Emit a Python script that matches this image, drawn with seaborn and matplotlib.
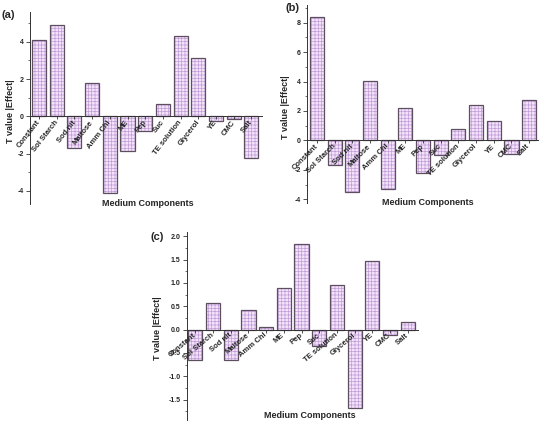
import matplotlib
matplotlib.use('Agg')
import matplotlib.pyplot as plt
from matplotlib.ticker import MultipleLocator, FixedLocator
import seaborn as sns
import pandas as pd

categories = ["Constant", "Sol Starch", "Sod nit", "Maltose", "Amm Chl", "ME", "Pep",
              "Suc", "TE solution", "Glycerol", "YE", "CMC", "Salt"]
values_a = [4.1, 4.9, -1.72, 1.81, -4.1, -1.83, -0.77, 0.66, 4.32, 3.15, -0.27, -0.16, -2.22]
values_b = [8.4, -1.69, -3.48, 4.02, -3.27, 2.23, -2.23, -0.97, 0.81, 2.39, 1.35, -0.95, 2.78]
values_c = [-0.66, 0.57, -0.66, 0.41, 0.064, 0.9, 1.84, -0.36, 0.95, -1.68, 1.46, -0.12, 0.16]

yticks_a = [-4, -2, 0, 2, 4]
yticks_b = [-4, -2, 0, 2, 4, 6, 8]
yticks_c = [-1.5, -1.0, -0.5, 0.0, 0.5, 1.0, 1.5, 2.0]
ytick_labels_c = ["-1.5", "-1.0", "-0.5", "0.0", "0.5", "1.0", "1.5", "2.0"]

sns.set_style('white')
plt.rcParams['font.family'] = ['Liberation Sans', 'DejaVu Sans']
plt.rcParams['font.weight'] = 'bold'
plt.rcParams['hatch.linewidth'] = 0.5

W, H = 542, 421
fig = plt.figure(figsize=(W / 100, H / 100), dpi=100)
fig.patch.set_facecolor('white')

FILL = '#f2e4fa'
HATCH = '#c29cd8'
EDGE = '#5d4f60'
DARK = '#333333'


def px_axes(left, top, right, bottom):
    return fig.add_axes([left / W, 1 - bottom / H, (right - left) / W, (bottom - top) / H])


def draw(ax, values, yticks, yticklabels, minor, ylim, xlim, rot):
    df = pd.DataFrame({'cat': categories, 'val': values})
    sns.barplot(data=df, x='cat', y='val', order=categories, color=FILL, saturation=1,
                hatch='+++++', edgecolor=HATCH, linewidth=0, width=0.8, ax=ax,
                errorbar=None)
    n0 = len(ax.patches)
    sns.barplot(data=df, x='cat', y='val', order=categories, color=FILL, saturation=1,
                linewidth=0.9, width=0.8, ax=ax, errorbar=None)
    for p in ax.patches[n0:]:
        p.set_facecolor('none')
        p.set_edgecolor(EDGE)
        p.set_linewidth(0.9)
    ax.set_axisbelow(False)
    ax.set_xlim(*xlim)
    ax.set_ylim(*ylim)
    for s in ['top', 'right']:
        ax.spines[s].set_visible(False)
    ax.spines['bottom'].set_position(('data', 0))
    for s in ['left', 'bottom']:
        ax.spines[s].set_color(DARK)
        ax.spines[s].set_linewidth(0.7)
    ax.yaxis.set_major_locator(FixedLocator(yticks))
    ax.set_yticklabels(yticklabels, fontsize=5, fontweight='bold')
    ax.yaxis.set_minor_locator(MultipleLocator(minor))
    ax.tick_params(axis='y', which='major', direction='out', length=3, width=0.6,
                   color=DARK, pad=1.5, left=True)
    ax.tick_params(axis='y', which='minor', direction='out', length=1.5, width=0.5,
                   color=DARK, left=True)
    ax.tick_params(axis='x', which='major', direction='out', length=2.5, width=0.6,
                   color=DARK, pad=1, bottom=True)
    ax.set_xticks(range(len(categories)))
    ax.set_xticklabels(categories, rotation=rot, ha='right', va='center',
                       rotation_mode='anchor', fontsize=5.5, fontweight='bold')
    ax.set_xlabel('')
    ax.set_ylabel('')
    ax.set_facecolor('none')


ax_a = px_axes(30, 12, 262, 204)
draw(ax_a, values_a, yticks_a, [str(v) for v in yticks_a], 1, (-4.7, 5.6), (-0.51, 12.6), 52)
ax_b = px_axes(307, 5, 538, 203)
draw(ax_b, values_b, yticks_b, [str(v) for v in yticks_b], 1, (-4.25, 9.2), (-0.56, 12.5), 45)
ax_c = px_axes(187, 232, 418, 423)
draw(ax_c, values_c, yticks_c, ytick_labels_c, 0.25, (-2.0, 2.09), (-0.47, 12.58), 40)

lab = dict(fontsize=6.5, fontweight='bold', ha='center', va='center')
fig.text(148 / W, 1 - 203 / H, 'Medium Components', **lab)
fig.text(428 / W, 1 - 202 / H, 'Medium Components', **lab)
fig.text(310 / W, 1 - 415 / H, 'Medium Components', **lab)

fig.text(11 / W, 1 - 111 / H, 'T value |Effect|', rotation=90, **lab)
fig.text(286 / W, 1 - 107 / H, 'T value |Effect|', rotation=90, **lab)
fig.text(158 / W, 1 - 328 / H, 'T value |Effect|', rotation=90, **lab)

tag = dict(fontsize=8, fontweight='bold', ha='center', va='center')
fig.text(8 / W, 1 - 15 / H, '(a)', **tag)
fig.text(292 / W, 1 - 8 / H, '(b)', **tag)
fig.text(157 / W, 1 - 237 / H, '(c)', **tag)

fig.savefig('out.png', dpi=100, facecolor='white')
